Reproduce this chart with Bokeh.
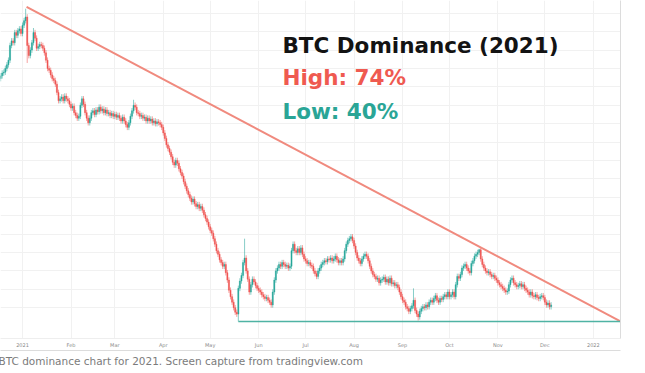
import pandas as pd
from bokeh.plotting import figure
from bokeh.models import ColumnDataSource, FixedTicker, LinearAxis, Label, Title
from bokeh.embed import file_html
from bokeh.resources import INLINE

# ---------------- data (BTC dominance, %, daily closes) ----------------
first_day = "2020-12-18"
first_open = 66.4
closes_2020_12 = [66.7, 67.0, 67.1, 67.5, 67.9, 68.4, 70.0, 70.5, 70.3, 71.4, 71.1, 71.6, 71.8, 71.3]
closes_2021_01 = [72.2, 72.7, 73.1, 70.0, 68.9, 69.5, 70.3, 71.4, 70.8, 69.7, 69.9, 70.1, 70.0, 69.7, 69.2,
                  68.4, 67.5, 67.3, 66.8, 66.4, 66.2, 65.8, 64.9, 64.0, 64.2, 64.4, 64.0, 64.5, 64.2, 64.0, 63.6]
closes_2021_02 = [63.2, 63.4, 62.7, 62.4, 62.1, 62.3, 63.5, 64.2, 63.6, 62.7, 62.1, 61.6, 62.1, 62.7,
                  62.9, 62.5, 63.0, 62.8, 63.3, 62.9, 63.1, 62.7, 63.0, 62.6, 62.7, 62.4, 62.6, 62.3]
closes_2021_03 = [62.5, 62.2, 62.4, 62.1, 61.8, 62.2, 61.8, 61.4, 61.1, 61.6, 62.3, 62.9, 63.5, 63.3, 62.7,
                  62.6, 62.3, 62.4, 62.1, 62.2, 61.8, 62.1, 61.8, 62.0, 61.6, 61.8, 61.5, 61.7, 61.6, 61.4, 61.1]
closes_2021_04 = [60.5, 59.9, 59.2, 58.8, 58.4, 57.9, 57.3, 57.0, 57.5, 57.2, 56.6, 56.2, 55.8, 55.2, 54.7,
                  54.2, 53.8, 53.4, 53.0, 53.3, 52.8, 52.5, 52.7, 52.3, 52.5, 52.1, 51.6, 51.2, 50.8, 50.3]
closes_2021_05 = [49.9, 49.6, 49.0, 48.4, 47.7, 47.3, 46.7, 46.4, 46.0, 46.2, 45.3, 44.5, 43.4, 42.7, 42.1,
                  41.5, 41.0, 40.8, 43.6, 44.4, 45.0, 46.4, 46.9, 45.5, 44.6, 43.2, 44.0, 44.6, 44.3, 43.9, 43.6]
closes_2021_06 = [43.4, 43.2, 42.9, 42.7, 42.5, 42.6, 42.3, 42.1, 41.8, 43.2, 44.5, 45.5, 45.8, 46.2, 46.0,
                  46.4, 46.2, 46.0, 46.1, 45.8, 46.0, 47.7, 48.4, 47.7, 47.5, 47.9, 47.5, 48.0, 47.3, 46.8]
closes_2021_07 = [46.6, 46.3, 46.4, 46.1, 46.0, 45.5, 45.2, 44.9, 45.5, 45.8, 46.2, 46.4, 46.6, 46.5, 46.8,
                  46.7, 46.9, 46.6, 46.8, 47.1, 46.7, 46.4, 46.6, 46.4, 46.8, 47.7, 48.4, 48.8, 49.0, 49.2, 48.8]
closes_2021_08 = [48.2, 47.5, 46.9, 46.6, 46.3, 46.8, 47.1, 47.3, 47.1, 46.6, 46.0, 45.5, 45.1, 44.9, 44.6,
                  44.7, 44.2, 44.5, 44.6, 44.8, 44.3, 44.6, 44.2, 44.7, 44.1, 44.2, 43.9, 44.0, 43.7, 43.2, 42.7]
closes_2021_09 = [42.3, 42.1, 41.6, 41.4, 41.1, 41.4, 41.7, 42.3, 41.2, 40.8, 40.5, 41.1, 41.4, 41.6, 41.5,
                  41.8, 41.6, 42.1, 42.3, 42.1, 42.5, 42.8, 42.3, 42.1, 42.5, 42.4, 42.7, 42.9, 42.7, 43.2]
closes_2021_10 = [42.7, 42.9, 43.2, 42.7, 44.0, 44.9, 44.7, 45.1, 45.8, 46.0, 46.2, 45.8, 45.5, 45.3, 46.3,
                  46.6, 47.1, 47.3, 47.5, 47.8, 46.8, 46.2, 45.8, 45.5, 45.3, 45.4, 45.1, 44.9, 45.0, 44.7, 44.5]
closes_2021_11 = [44.2, 44.0, 43.8, 43.6, 43.4, 43.2, 43.3, 44.0, 44.5, 44.7, 44.2, 44.0, 43.8, 43.9, 44.1,
                  43.8, 44.0, 43.6, 43.4, 43.2, 42.9, 43.2, 42.8, 42.7, 42.9, 42.6, 42.5, 42.7, 42.8, 42.6]
closes_2021_12 = [42.1, 41.8, 42.0, 41.6, 41.8]

typical_wick = 0.3  # usual wick length beyond the body, %
spike_high_dates = ["2021-01-03", "2021-01-08", "2021-03-13", "2021-05-23", "2021-07-30", "2021-09-08", "2021-10-20"]
spike_high_values = [74.0, 71.9, 64.1, 49.0, 49.5, 43.6, 47.9]
spike_low_dates = ["2021-01-04", "2021-05-19", "2021-09-11"]
spike_low_values = [68.1, 40.0, 40.1]

trend_dates = ["2021-01-03 14:00", "2022-01-18 09:00"]
trend_values = [74.2, 40.0]
support_dates = ["2021-05-19", "2022-01-18 09:00"]
support_values = [40.0, 40.0]

tick_dates = ["2021-01-01", "2021-02-01", "2021-03-01", "2021-04-01", "2021-05-01", "2021-06-01", "2021-07-01",
              "2021-08-01", "2021-09-01", "2021-10-01", "2021-11-01", "2021-12-01", "2022-01-01"]
tick_labels = ["2021", "Feb", "Mar", "Apr", "May", "Jun", "Jul", "Aug", "Sep", "Oct", "Nov", "Dec", "2022"]
grid_levels = [41.5, 43.5, 45.5, 47.5, 49.5, 51.5, 53.5, 55.5, 57.5, 59.5, 61.5, 63.5, 65.5, 67.5, 69.5, 71.5, 73.5]

view_start, view_end = "2020-12-17 22:00", "2022-01-18 09:00"
view_low, view_high = 38.15, 74.89

# text block anchored in chart coordinates (left edge date, baselines in %)
text_left = "2021-06-16 05:00"
title_text, title_base = "BTC Dominance (2021)", 70.0
high_text, high_base = "High: 74%", 66.5
low_text, low_base = "Low: 40%", 62.8
caption_text = "BTC dominance chart for 2021. Screen capture from tradingview.com"

UP, DOWN = "#26a69a", "#ef5350"

# ---------------- build OHLC ----------------
closes = (closes_2020_12 + closes_2021_01 + closes_2021_02 + closes_2021_03 + closes_2021_04 + closes_2021_05
          + closes_2021_06 + closes_2021_07 + closes_2021_08 + closes_2021_09 + closes_2021_10
          + closes_2021_11 + closes_2021_12)
dates = pd.date_range(first_day, periods=len(closes), freq="D")
opens = [first_open] + closes[:-1]
highs = [max(o, c) + typical_wick for o, c in zip(opens, closes)]
lows = [min(o, c) - typical_wick for o, c in zip(opens, closes)]
for d, v in zip(spike_high_dates, spike_high_values):
    highs[dates.get_loc(pd.Timestamp(d))] = v
for d, v in zip(spike_low_dates, spike_low_values):
    lows[dates.get_loc(pd.Timestamp(d))] = v

df = pd.DataFrame({"date": dates, "open": opens, "close": closes, "high": highs, "low": lows})
df["top"] = df[["open", "close"]].max(axis=1)
df["bottom"] = df[["open", "close"]].min(axis=1)
up_src = ColumnDataSource(df[df.close >= df.open])
dn_src = ColumnDataSource(df[df.close < df.open])


def ms(d):
    return pd.Timestamp(d).value / 1e6


DAY = 86400000

p = figure(width=645, height=373, x_axis_type="datetime",
           x_range=(ms(view_start), ms(view_end)), y_range=(view_low, view_high),
           output_backend="svg", toolbar_location=None, y_axis_location="right",
           min_border_left=0, min_border_top=0, min_border_right=25, min_border_bottom=35)
p.margin = (0, 0, 0, 0)
p.outline_line_color = None
p.background_fill_color = "white"
p.border_fill_color = "white"

# grid
tick_ms = [ms(d) for d in tick_dates]
p.xgrid.ticker = FixedTicker(ticks=tick_ms)
p.ygrid.ticker = FixedTicker(ticks=grid_levels)
p.xgrid.grid_line_color = "#f1f1f1"
p.ygrid.grid_line_color = "#f1f1f1"

# time axis
xa = p.xaxis[0]
xa.ticker = FixedTicker(ticks=tick_ms)
xa.major_label_overrides = dict(zip(tick_ms, tick_labels))
xa.major_tick_line_color = None
xa.minor_tick_line_color = None
xa.major_tick_out = 0
xa.major_tick_in = 0
xa.minor_tick_out = 0
xa.axis_line_color = "#eeeeee"
xa.major_label_text_font = "DejaVu Sans"
xa.major_label_text_font_size = "5px"
xa.major_label_text_color = "#8a8a8a"
xa.major_label_standoff = 3

edge = LinearAxis(ticker=FixedTicker(ticks=[]), axis_line_color="#dcdcdc",
                  major_tick_line_color=None, minor_tick_line_color=None,
                  major_tick_out=0, major_tick_in=0, minor_tick_out=0, major_label_standoff=0)
p.add_layout(edge, "below")

caption = Title(text=caption_text, align="left", offset=-2, standoff=4,
                text_font="DejaVu Sans", text_font_style="normal", text_font_size="10.5px",
                text_color="#7b7b7b")
p.add_layout(caption, "below")

# right price-scale border
ya = p.yaxis[0]
ya.ticker = FixedTicker(ticks=[])
ya.axis_line_color = "#dcdcdc"
ya.major_tick_line_color = None
ya.minor_tick_line_color = None
ya.major_tick_out = 0
ya.minor_tick_out = 0
ya.major_label_standoff = 0

# candles
for src, col in ((up_src, UP), (dn_src, DOWN)):
    p.segment(x0="date", y0="low", x1="date", y1="high", source=src, line_color=col, line_width=1, line_alpha=0.55)
    p.vbar(x="date", width=0.72 * DAY, top="top", bottom="bottom", source=src,
           fill_color=col, line_color=col, line_width=0.4)

# trend and support lines
p.line([pd.Timestamp(d) for d in trend_dates], trend_values, line_color="#f08a7e", line_width=2)
p.line([pd.Timestamp(d) for d in support_dates], support_values, line_color="#4fb3a4", line_width=1.6)

# texts
for txt, base, col in ((title_text, title_base, "#131313"), (high_text, high_base, "#ef5a50"),
                       (low_text, low_base, "#2aa596")):
    p.add_layout(Label(x=ms(text_left), y=base, text=txt,
                       text_font="DejaVu Sans", text_font_style="bold", text_font_size="21.5px",
                       text_color=col, text_baseline="alphabetic"))

open("out.html", "w").write(file_html(p, INLINE))
